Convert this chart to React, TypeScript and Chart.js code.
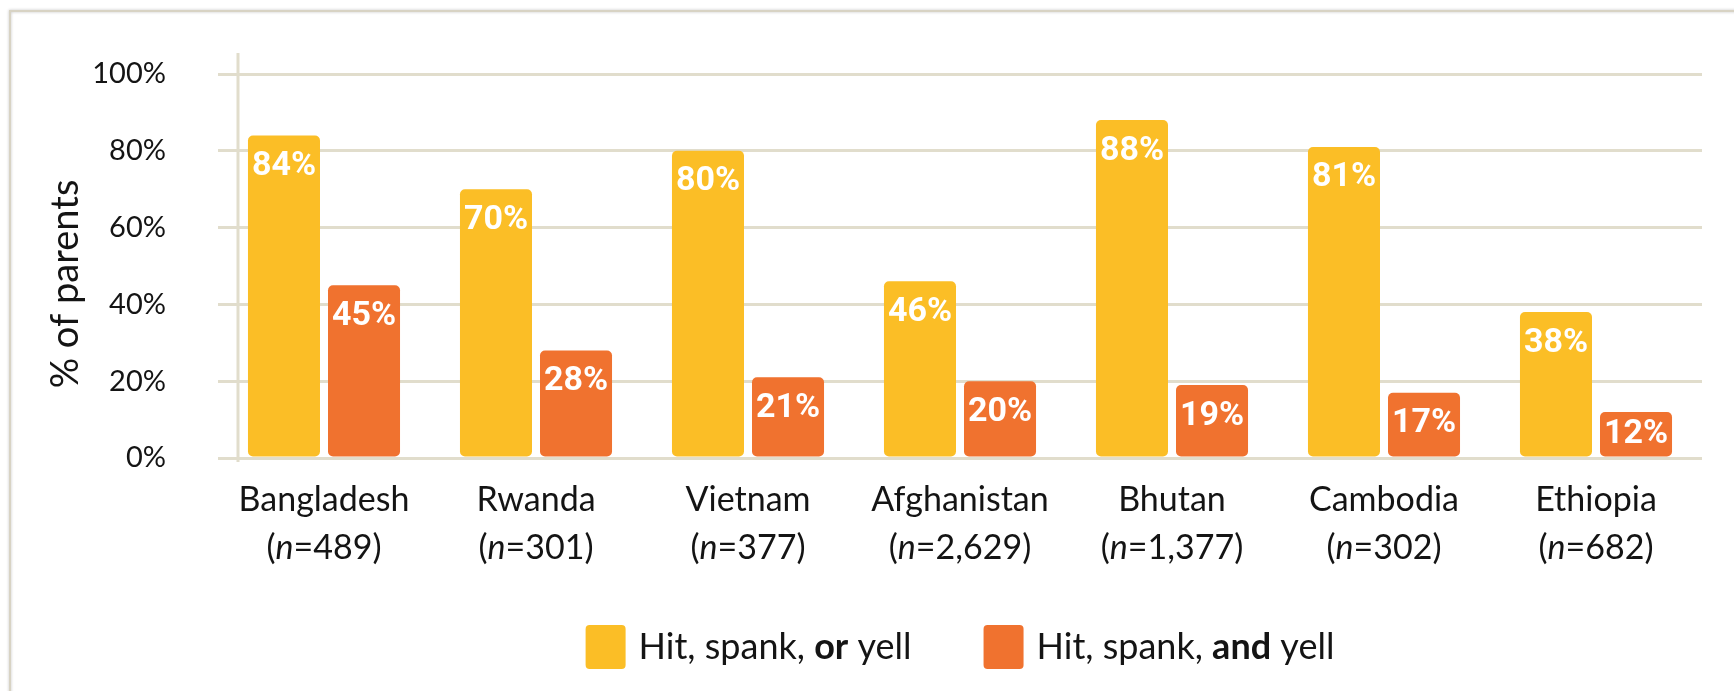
import React, { useEffect, useRef } from "react";
import { Chart, registerables } from "chart.js";

Chart.register(...registerables);

const categories = ["Bangladesh", "Rwanda", "Vietnam", "Afghanistan", "Bhutan", "Cambodia", "Ethiopia"];
const sampleSizes = ["489", "301", "377", "2,629", "1,377", "302", "682"];
const orValues = [84, 70, 80, 46, 88, 81, 38];
const andValues = [45, 28, 21, 20, 19, 17, 12];
const yTickValues = [0, 20, 40, 60, 80, 100];
const orLabelParts = [
  { text: "Hit, spank, ", bold: false },
  { text: "or", bold: true },
  { text: " yell", bold: false },
];
const andLabelParts = [
  { text: "Hit, spank, ", bold: false },
  { text: "and", bold: true },
  { text: " yell", bold: false },
];
const yAxisTitle = "% of parents";

const YELLOW = "#FBBE26";
const ORANGE = "#F0722F";
const GRID = "#E1DDCC";
const TEXT = "#141414";
const FONT = "Lato, 'Open Sans', sans-serif";
const LABEL_FONT = "Roboto, 'Liberation Sans', sans-serif";

const W = 1734;
const H = 691;

const decorPlugin = {
  id: "decor",
  beforeDraw(chart: any) {
    const ctx = chart.ctx;
    ctx.save();
    ctx.fillStyle = "#ffffff";
    ctx.fillRect(0, 0, chart.width, chart.height);
    ctx.shadowColor = "rgba(0,0,0,0.25)";
    ctx.shadowBlur = 3;
    ctx.strokeStyle = "#D8D3C4";
    ctx.lineWidth = 2;
    ctx.beginPath();
    ctx.moveTo(10, chart.height + 5);
    ctx.lineTo(10, 11);
    ctx.lineTo(chart.width + 5, 11);
    ctx.stroke();
    ctx.restore();
  },
  afterDraw(chart: any) {
    const ctx = chart.ctx;
    const area = chart.chartArea;
    const xs = chart.scales.x;
    ctx.save();
    ctx.strokeStyle = GRID;
    ctx.lineWidth = 3;
    ctx.beginPath();
    ctx.moveTo(area.left + 20, area.top - 21);
    ctx.lineTo(area.left + 20, area.bottom + 4);
    ctx.stroke();

    ctx.save();
    ctx.translate(66, (area.top + area.bottom) / 2 + 18);
    ctx.rotate(-Math.PI / 2);
    ctx.fillStyle = TEXT;
    ctx.font = `38px ${FONT}`;
    ctx.textAlign = "center";
    ctx.textBaseline = "middle";
    ctx.fillText(yAxisTitle, 0, 0);
    ctx.restore();

    const catSize = 34;
    ctx.fillStyle = TEXT;
    ctx.textBaseline = "middle";
    categories.forEach((cat, i) => {
      const x = xs.getPixelForValue(i);
      ctx.font = `${catSize}px ${FONT}`;
      ctx.textAlign = "center";
      ctx.fillText(cat, x, area.bottom + 42);
      const parts = [
        { t: "(", f: `${catSize}px ${FONT}` },
        { t: "n", f: `italic ${catSize}px ${FONT}` },
        { t: "=" + sampleSizes[i] + ")", f: `${catSize}px ${FONT}` },
      ];
      let total = 0;
      parts.forEach((p) => {
        ctx.font = p.f;
        total += ctx.measureText(p.t).width;
      });
      let cx = x - total / 2;
      ctx.textAlign = "left";
      parts.forEach((p) => {
        ctx.font = p.f;
        ctx.fillText(p.t, cx, area.bottom + 90);
        cx += ctx.measureText(p.t).width;
      });
    });

    const items = chart.data.datasets.map((ds: any) => ({ color: ds.backgroundColor, parts: ds.labelParts }));
    const boxW = 40, boxH = 44, boxGap = 13, itemGap = 72;
    const fontFor = (b: boolean) => `${b ? "bold " : ""}36px ${FONT}`;
    const widths = items.map((it: any) => {
      let w = 0;
      it.parts.forEach((p: any) => {
        ctx.font = fontFor(p.bold);
        w += ctx.measureText(p.text).width;
      });
      return w;
    });
    let totalW = 0;
    widths.forEach((w: number, i: number) => {
      totalW += boxW + boxGap + w + (i > 0 ? itemGap : 0);
    });
    let lx = (area.left + area.right) / 2 - totalW / 2;
    const ly = 647;
    items.forEach((it: any) => {
      ctx.fillStyle = it.color;
      ctx.beginPath();
      (ctx as any).roundRect(lx, ly - boxH / 2, boxW, boxH, 4);
      ctx.fill();
      lx += boxW + boxGap;
      ctx.fillStyle = TEXT;
      ctx.textAlign = "left";
      ctx.textBaseline = "middle";
      it.parts.forEach((p: any) => {
        ctx.font = fontFor(p.bold);
        ctx.fillText(p.text, lx, ly);
        lx += ctx.measureText(p.text).width;
      });
      lx += itemGap;
    });
    ctx.restore();
  },
  afterDatasetsDraw(chart: any) {
    const ctx = chart.ctx;
    ctx.save();
    ctx.fillStyle = "#ffffff";
    ctx.font = `bold 34px ${LABEL_FONT}`;
    ctx.textAlign = "center";
    ctx.textBaseline = "middle";
    chart.data.datasets.forEach((ds: any, di: number) => {
      const meta = chart.getDatasetMeta(di);
      meta.data.forEach((el: any, i: number) => {
        const y = Math.min(el.y + 31, el.base - 22);
        ctx.fillText(ds.data[i] + "%", el.x, y);
      });
    });
    ctx.restore();
  },
};

export default function App() {
  const ref = useRef<HTMLCanvasElement>(null);
  useEffect(() => {
    if (!ref.current) return;
    const chart = new Chart(ref.current, {
      type: "bar",
      data: {
        labels: categories,
        datasets: [
          {
            label: "Hit, spank, or yell",
            labelParts: orLabelParts,
            data: orValues,
            backgroundColor: YELLOW,
            borderRadius: 5,
            borderSkipped: false,
            categoryPercentage: 0.755,
            barPercentage: 0.9,
          } as any,
          {
            label: "Hit, spank, and yell",
            labelParts: andLabelParts,
            data: andValues,
            backgroundColor: ORANGE,
            borderRadius: 5,
            borderSkipped: false,
            categoryPercentage: 0.755,
            barPercentage: 0.9,
          } as any,
        ],
      },
      options: {
        animation: false,
        responsive: false,
        devicePixelRatio: 1,
        layout: { padding: { top: 74, right: 32, left: 0, bottom: 0 } },
        plugins: { legend: { display: false }, tooltip: { enabled: false } },
        scales: {
          x: {
            grid: { display: false },
            border: { display: false },
            ticks: { display: false },
            afterFit: (s: any) => {
              s.height = H - 458;
            },
          },
          y: {
            min: 0,
            max: 100,
            afterBuildTicks: (s: any) => {
              s.ticks = yTickValues.map((v) => ({ value: v }));
            },
            grid: { color: GRID, lineWidth: 3, drawTicks: false },
            border: { display: false },
            ticks: {
              color: TEXT,
              font: { family: FONT, size: 29 },
              padding: 52,
              callback: (v: any) => v + "%",
            },
            afterFit: (s: any) => {
              s.width = 218;
            },
          },
        },
      },
      plugins: [decorPlugin],
    });
    return () => chart.destroy();
  }, []);
  return (
    <div style={{ position: "fixed", left: 0, top: 0, width: W, height: H, background: "#fff", overflow: "hidden" }}>
      <canvas ref={ref} width={W} height={H} style={{ display: "block", width: W, height: H }} />
    </div>
  );
}
